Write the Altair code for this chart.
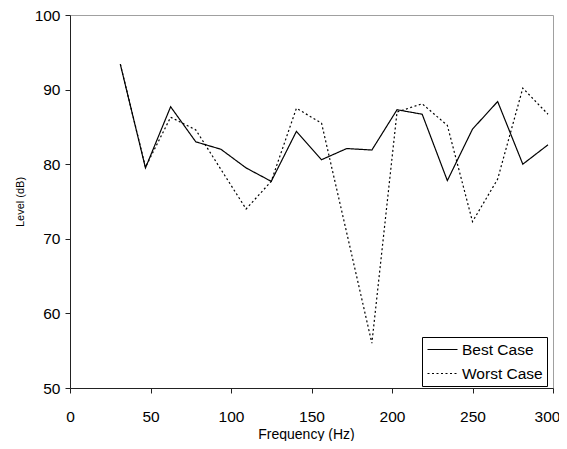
import altair as alt
import pandas as pd

freq = [31.25, 46.875, 62.5, 78.125, 93.75, 109.375, 125, 140.625, 156.25,
        171.875, 187.5, 203.125, 218.75, 234.375, 250, 265.625, 281.25, 296.875]
best = [93.4, 79.5, 87.7, 83.0, 82.0, 79.5, 77.7, 84.4, 80.6,
        82.1, 81.9, 87.3, 86.7, 77.8, 84.7, 88.4, 80.0, 82.6]
worst = [93.4, 79.6, 86.3, 84.6, 79.3, 74.0, 77.7, 87.5, 85.5,
         70.8, 56.0, 87.0, 88.1, 85.2, 72.3, 78.0, 90.2, 86.7]
series = ["Best Case", "Worst Case"]
x_ticks = [0, 50, 100, 150, 200, 250, 300]
y_ticks = [50, 60, 70, 80, 90, 100]

rows = []
for name, vals in zip(series, [best, worst]):
    for f, v in zip(freq, vals):
        rows.append({"freq": f, "level": v, "case": name})
df = pd.DataFrame(rows)

FONT = "Liberation Sans"

chart = alt.Chart(df).mark_line(color="black", strokeWidth=1.2).encode(
    x=alt.X("freq:Q",
            scale=alt.Scale(domain=[0, 300], nice=False, zero=False),
            axis=alt.Axis(values=x_ticks, title="Frequency (Hz)", grid=False,
                          domainColor="#222222", tickColor="#222222",
                          tickSize=5, labelPadding=16, labelFontSize=15.5,
                          labelFlush=False,
                          labelOffset={"condition": {"test": "datum.value === 300", "value": -6},
                                       "value": 0},
                          labelFont=FONT, labelColor="black",
                          titleFont=FONT, titleFontSize=14, titleFontWeight="normal",
                          titleColor="black", titleBaseline="alphabetic",
                          titleX=236, titleY=50.5)),
    y=alt.Y("level:Q",
            scale=alt.Scale(domain=[50, 100], nice=False, zero=False),
            axis=alt.Axis(values=y_ticks, title="Level  (dB)", grid=False,
                          domainColor="#222222", tickColor="#222222",
                          tickSize=5, labelPadding=5, labelFontSize=15.5,
                          labelFlush=False,
                          labelFont=FONT, labelColor="black",
                          titleFont=FONT, titleFontSize=11, titleFontWeight="normal",
                          titleColor="black", titlePadding=9)),
    strokeDash=alt.StrokeDash(
        "case:N",
        scale=alt.Scale(domain=series, range=[[1, 0], [2, 2.5]]),
        legend=alt.Legend(title=None,
                          orient="none", legendX=352, legendY=322,
                          direction="vertical",
                          strokeColor="black", fillColor="white", padding=4,
                          symbolType="M-2,0L2,0", symbolSize=225,
                          symbolOffset=8, symbolFillColor="transparent",
                          symbolStrokeWidth=1.2, symbolStrokeColor="black",
                          labelFont=FONT, labelFontSize=15.5, labelColor="black",
                          labelOffset=11, rowPadding=7, cornerRadius=0)),
).properties(
    width=483, height=373,
    autosize=alt.AutoSizeParams(type="none"),
    padding={"left": 62, "top": 7, "right": 6, "bottom": 53},
).configure_view(stroke="#a0a0a0", strokeWidth=1)

chart.save("out.html", embed_options={"renderer": "svg", "actions": False})
